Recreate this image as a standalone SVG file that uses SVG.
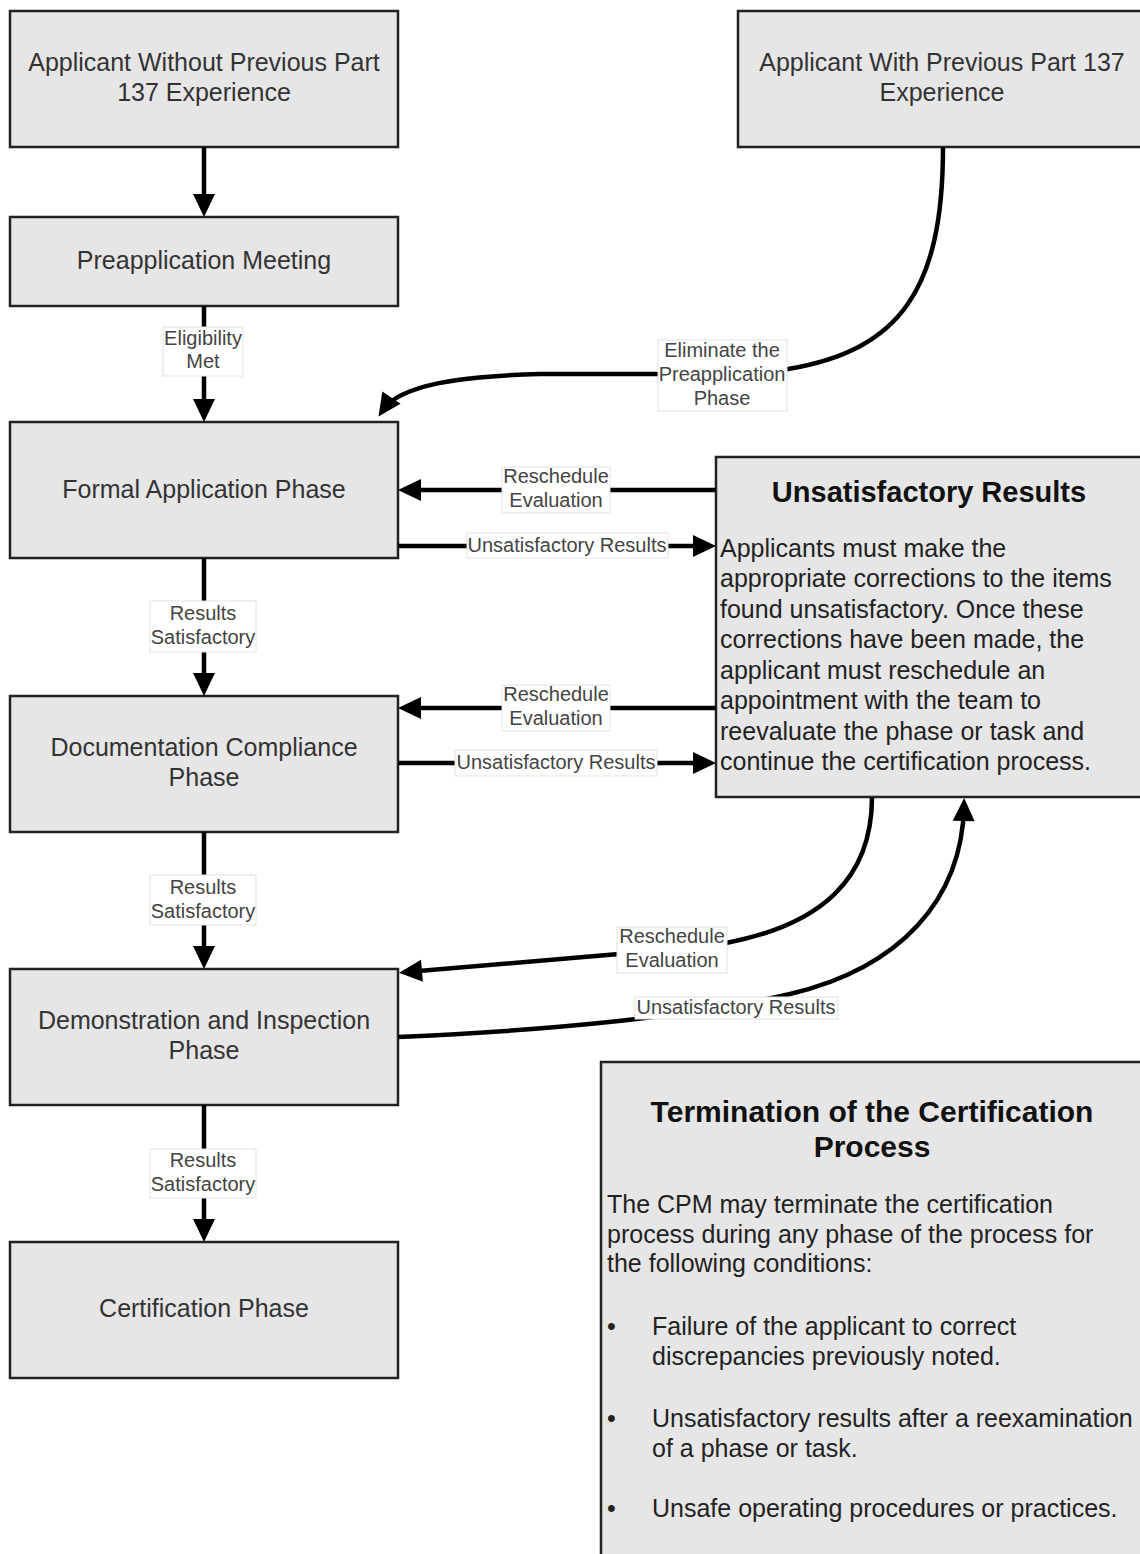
<svg xmlns="http://www.w3.org/2000/svg" width="1140" height="1554" viewBox="0 0 1140 1554">
<style>
  .box { fill:#e6e6e6; stroke:#222; stroke-width:2.5; }
  text { font-family:"Liberation Sans", Arial, Helvetica, sans-serif; }
  .nt { font-size:25px; fill:#333; text-anchor:middle; }
  .bt { font-size:25px; fill:#222; }
  .tt { font-weight:bold; fill:#111; text-anchor:middle; }
  .conn { fill:none; stroke:#000; stroke-width:4.5; }
  .lr { fill:#fff; stroke:#e2e2e2; stroke-width:1; }
  .lt { font-size:20px; fill:#444; text-anchor:middle; }
</style>
<defs>
  <marker id="ah" markerUnits="userSpaceOnUse" markerWidth="23" markerHeight="22" refX="15" refY="11" orient="auto" overflow="visible">
    <path d="M0,0 L23,11 L0,22 z" fill="#000"/>
  </marker>
</defs>
<rect width="1140" height="1554" fill="#fff"/>

<g id="n-without">
  <rect class="box" x="10" y="11" width="388" height="136"/>
  <text class="nt" x="204" y="71">Applicant Without Previous Part</text>
  <text class="nt" x="204" y="101">137 Experience</text>
</g>
<g id="n-with">
  <rect class="box" x="738" y="11" width="410" height="136"/>
  <text class="nt" x="942" y="71">Applicant With Previous Part 137</text>
  <text class="nt" x="942" y="101">Experience</text>
</g>
<g id="n-preapp">
  <rect class="box" x="10" y="217" width="388" height="89"/>
  <text class="nt" x="204" y="269">Preapplication Meeting</text>
</g>
<g id="n-formal">
  <rect class="box" x="10" y="422" width="388" height="136"/>
  <text class="nt" x="204" y="498">Formal Application Phase</text>
</g>
<g id="n-doc">
  <rect class="box" x="10" y="696" width="388" height="136"/>
  <text class="nt" x="204" y="756">Documentation Compliance</text>
  <text class="nt" x="204" y="786">Phase</text>
</g>
<g id="n-demo">
  <rect class="box" x="10" y="969" width="388" height="136"/>
  <text class="nt" x="204" y="1029">Demonstration and Inspection</text>
  <text class="nt" x="204" y="1059">Phase</text>
</g>
<g id="n-cert">
  <rect class="box" x="10" y="1242" width="388" height="136"/>
  <text class="nt" x="204" y="1317">Certification Phase</text>
</g>
<g id="n-unsat">
  <rect class="box" x="716" y="457" width="440" height="340"/>
  <text class="tt" x="929" y="502" font-size="29">Unsatisfactory Results</text>
  <text class="bt" x="720" y="557">Applicants must make the</text>
  <text class="bt" x="720" y="587">appropriate corrections to the items</text>
  <text class="bt" x="720" y="618">found unsatisfactory. Once these</text>
  <text class="bt" x="720" y="648">corrections have been made, the</text>
  <text class="bt" x="720" y="679">applicant must reschedule an</text>
  <text class="bt" x="720" y="709">appointment with the team to</text>
  <text class="bt" x="720" y="740">reevaluate the phase or task and</text>
  <text class="bt" x="720" y="770">continue the certification process.</text>
</g>
<g id="n-termination">
  <rect class="box" x="601" y="1062" width="560" height="510"/>
  <text class="tt" x="872" y="1122" font-size="30">Termination of the Certification</text>
  <text class="tt" x="872" y="1157" font-size="30">Process</text>
  <text class="bt" x="607" y="1213">The CPM may terminate the certification</text>
  <text class="bt" x="607" y="1243">process during any phase of the process for</text>
  <text class="bt" x="607" y="1272">the following conditions:</text>
  <text class="bt" x="607" y="1335">•</text>
  <text class="bt" x="652" y="1335">Failure of the applicant to correct</text>
  <text class="bt" x="652" y="1365">discrepancies previously noted.</text>
  <text class="bt" x="607" y="1427">•</text>
  <text class="bt" x="652" y="1427">Unsatisfactory results after a reexamination</text>
  <text class="bt" x="652" y="1457">of a phase or task.</text>
  <text class="bt" x="607" y="1517">•</text>
  <text class="bt" x="652" y="1517">Unsafe operating procedures or practices.</text>
</g>

<g id="connectors">
  <path class="conn" marker-end="url(#ah)" d="M204,147 V209"/>
  <path class="conn" marker-end="url(#ah)" d="M204,306 V414"/>
  <path class="conn" marker-end="url(#ah)" d="M943,147 C943,290 900,350 788,369 L660,374 L540,374 C460,376 400,385 383,410"/>
  <path class="conn" marker-end="url(#ah)" d="M716,490 H406"/>
  <path class="conn" marker-end="url(#ah)" d="M398,546 H708"/>
  <path class="conn" marker-end="url(#ah)" d="M204,558 V688"/>
  <path class="conn" marker-end="url(#ah)" d="M716,708 H406"/>
  <path class="conn" marker-end="url(#ah)" d="M398,763 H708"/>
  <path class="conn" marker-end="url(#ah)" d="M204,832 V961"/>
  <path class="conn" marker-end="url(#ah)" d="M872,797 C872,880 820,925 726,943 L619,954 L407,972"/>
  <path class="conn" marker-end="url(#ah)" d="M398,1037 C560,1030 700,1015 790,994 C900,968 962,900 964,806"/>
  <path class="conn" marker-end="url(#ah)" d="M204,1105 V1234"/>

  <g id="lbl-eligibility">
    <rect class="lr" x="163" y="327" width="80" height="49"/>
    <text class="lt" x="203" y="345">Eligibility</text>
    <text class="lt" x="203" y="368">Met</text>
  </g>
  <g id="lbl-eliminate">
    <rect class="lr" x="658" y="340" width="129" height="71"/>
    <text class="lt" x="722" y="357">Eliminate the</text>
    <text class="lt" x="722" y="381">Preapplication</text>
    <text class="lt" x="722" y="405">Phase</text>
  </g>
  <g id="lbl-resched1">
    <rect class="lr" x="502" y="467" width="108" height="46"/>
    <text class="lt" x="556" y="483">Reschedule</text>
    <text class="lt" x="556" y="507">Evaluation</text>
  </g>
  <g id="lbl-unsat1">
    <rect class="lr" x="467" y="533" width="201" height="25"/>
    <text class="lt" x="567" y="552">Unsatisfactory Results</text>
  </g>
  <g id="lbl-sat1">
    <rect class="lr" x="150" y="601" width="106" height="51"/>
    <text class="lt" x="203" y="620">Results</text>
    <text class="lt" x="203" y="644">Satisfactory</text>
  </g>
  <g id="lbl-resched2">
    <rect class="lr" x="502" y="685" width="108" height="46"/>
    <text class="lt" x="556" y="701">Reschedule</text>
    <text class="lt" x="556" y="725">Evaluation</text>
  </g>
  <g id="lbl-unsat2">
    <rect class="lr" x="455" y="750" width="202" height="26"/>
    <text class="lt" x="556" y="769">Unsatisfactory Results</text>
  </g>
  <g id="lbl-sat2">
    <rect class="lr" x="150" y="875" width="106" height="50"/>
    <text class="lt" x="203" y="894">Results</text>
    <text class="lt" x="203" y="918">Satisfactory</text>
  </g>
  <g id="lbl-resched3">
    <rect class="lr" x="617" y="927" width="110" height="46"/>
    <text class="lt" x="672" y="943">Reschedule</text>
    <text class="lt" x="672" y="967">Evaluation</text>
  </g>
  <g id="lbl-unsat3">
    <rect class="lr" x="635" y="997" width="203" height="22"/>
    <text class="lt" x="736" y="1014">Unsatisfactory Results</text>
  </g>
  <g id="lbl-sat3">
    <rect class="lr" x="150" y="1149" width="106" height="49"/>
    <text class="lt" x="203" y="1167">Results</text>
    <text class="lt" x="203" y="1191">Satisfactory</text>
  </g>
</g>
</svg>
